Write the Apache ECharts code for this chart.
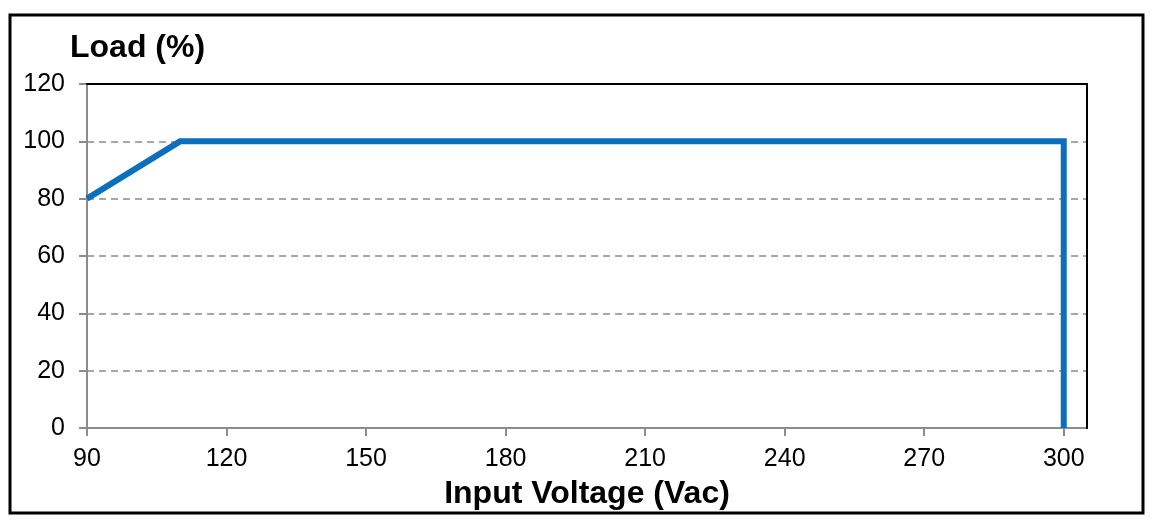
<!DOCTYPE html>
<html>
<head>
<meta charset="UTF-8" />
<script src="https://cdn.jsdelivr.net/npm/echarts@6/dist/echarts.min.js"></script>
<style>
  html, body { margin: 0; padding: 0; width: 100%; height: 100%; background: #fff; }
  #main { width: 1155px; height: 530px; }
</style>
</head>
<body>
<div id="main"></div>
<script>
  // derating curve: input voltage vs allowed load
  const voltage = [90, 110, 300, 300];
  const load = [80, 100, 100, 0];
  const xTicks = [90, 120, 150, 180, 210, 240, 270, 300];
  const yTicks = [0, 20, 40, 60, 80, 100, 120];

  const font = 'Liberation Sans, Arial, sans-serif';
  const chart = echarts.init(document.getElementById('main'));

  const option = {
    animation: false,
    backgroundColor: '#fff',
    title: {
      text: 'Load (%)',
      left: 65,
      top: 27,
      textStyle: { fontFamily: font, fontSize: 32, fontWeight: 'bold', color: '#000' }
    },
    graphic: [{
      type: 'rect',
      shape: { x: 10, y: 15, width: 1133, height: 498 },
      style: { fill: 'none', stroke: '#000', lineWidth: 3 },
      silent: true
    }],
    grid: { left: 87, top: 84, width: 1000, height: 344 },
    xAxis: [{
      type: 'value',
      min: 90,
      max: 305,
      name: 'Input Voltage (Vac)',
      nameLocation: 'middle',
      nameGap: 50,
      nameTextStyle: { fontFamily: font, fontSize: 32, fontWeight: 'bold', color: '#000' },
      axisLine: { onZero: false, lineStyle: { color: '#8c8c8c', width: 2 } },
      axisTick: { show: true, length: 8, customValues: xTicks, lineStyle: { color: '#8c8c8c', width: 2 } },
      axisLabel: { customValues: xTicks, margin: 19, fontFamily: font, fontSize: 25, color: '#000' },
      splitLine: { show: false }
    }, {
      type: 'value',
      position: 'top',
      min: 90,
      max: 305,
      z: 4,
      axisLine: { show: true, onZero: false, lineStyle: { color: '#000', width: 2 } },
      axisTick: { show: false },
      axisLabel: { show: false },
      splitLine: { show: false }
    }],
    yAxis: [{
      type: 'value',
      min: 0,
      max: 120,
      interval: 20,
      axisLine: { show: true, onZero: false, lineStyle: { color: '#8c8c8c', width: 2 } },
      axisTick: { show: true, length: 8, customValues: yTicks, lineStyle: { color: '#8c8c8c', width: 2 } },
      axisLabel: { customValues: yTicks, margin: 22, fontFamily: font, fontSize: 25, color: '#000' },
      splitLine: {
        show: true,
        showMinLine: false,
        showMaxLine: false,
        lineStyle: { color: '#8c8c8c', width: 1.5, type: [7, 5] }
      }
    }, {
      type: 'value',
      position: 'right',
      min: 0,
      max: 120,
      interval: 20,
      z: 4,
      axisLine: { show: true, onZero: false, lineStyle: { color: '#000', width: 2 } },
      axisTick: { show: false },
      axisLabel: { show: false },
      splitLine: { show: false }
    }],
    series: [{
      type: 'line',
      xAxisIndex: 0,
      yAxisIndex: 0,
      data: voltage.map((v, i) => [v, load[i]]),
      symbol: 'none',
      clip: false,
      lineStyle: { color: '#0c6fbd', width: 6, join: 'miter' },
      z: 5
    }]
  };

  chart.setOption(option);
</script>
</body>
</html>
